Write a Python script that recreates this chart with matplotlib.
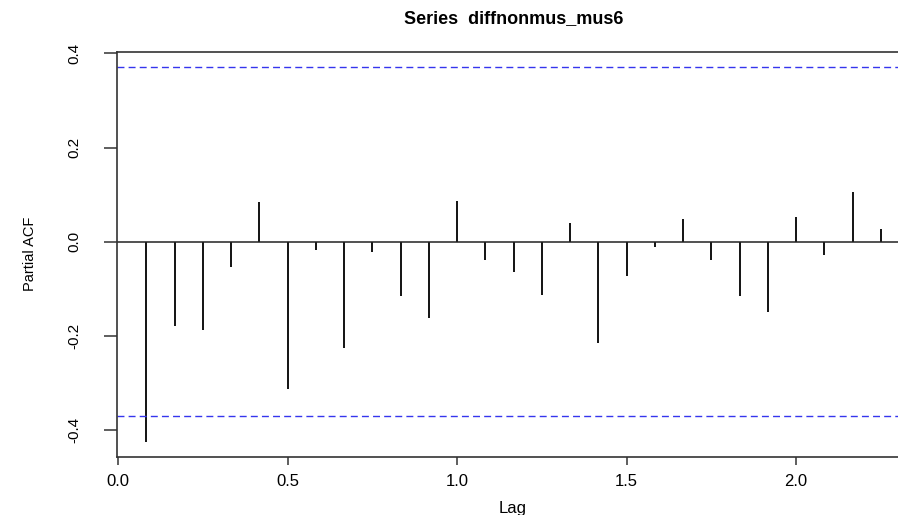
import matplotlib
matplotlib.use("Agg")
import matplotlib.pyplot as plt
import numpy as np

# --- PACF values (lags in years, monthly series) ---
lag_index = np.arange(1, 28)
lags = lag_index / 12.0
pacf = [-0.425, -0.178, -0.188, -0.054, 0.084, -0.312, -0.017,
        -0.225, -0.021, -0.115, -0.161, 0.086, -0.038, -0.064,
        -0.113, 0.040, -0.214, -0.073, -0.011, 0.049, -0.038,
        -0.115, -0.149, 0.053, -0.028, 0.105, 0.028]
ci = 0.3704  # 95% bound, 1.96/sqrt(n)

xticks = [0.0, 0.5, 1.0, 1.5, 2.0]
yticks = [-0.4, -0.2, 0.0, 0.2, 0.4]

plt.rcParams["font.family"] = ["Liberation Sans", "DejaVu Sans"]

W, H = 898, 515
fig = plt.figure(figsize=(W / 100, H / 100), dpi=100)
# plot region runs past the right edge of the picture (cropped R output)
ax = fig.add_axes([117 / W, 58 / H, (910 - 117) / W, (457 - 52) / H])

ax.vlines(lags, 0, pacf, color="black", linewidth=1.3)
ax.axhline(0, color="#222222", linewidth=1.1)
for c in (ci, -ci):
    ax.axhline(c, color="#3535ee", linewidth=1.0, dashes=(5, 3))

ax.set_xlim(-0.003, 2.336)
ax.set_ylim(-0.457, 0.403)

ax.set_xticks(xticks)
ax.set_xticklabels([f"{t:.1f}" for t in xticks], fontsize=12)
ax.set_yticks(yticks)
ax.set_yticklabels([f"{t:.1f}" for t in yticks], fontsize=11,
                   rotation=90, va="center")
ax.tick_params(axis="x", direction="out", length=6, width=1.1,
               color="#333333", pad=6)
ax.tick_params(axis="y", direction="out", length=9.5, width=1.1,
               color="#333333", pad=16)

for s in ax.spines.values():
    s.set_color("#333333")
    s.set_linewidth(1.2)

ax.set_title("Series  diffnonmus_mus6", fontsize=13, fontweight="bold", pad=21)
fig.text(513 / W, 1 - 509 / H, "Lag", fontsize=12, ha="center", va="center")
fig.text(30 / W, 1 - 254 / H, "Partial ACF", fontsize=10.5, rotation=90,
         ha="center", va="center")

fig.savefig("out.png", dpi=100)
